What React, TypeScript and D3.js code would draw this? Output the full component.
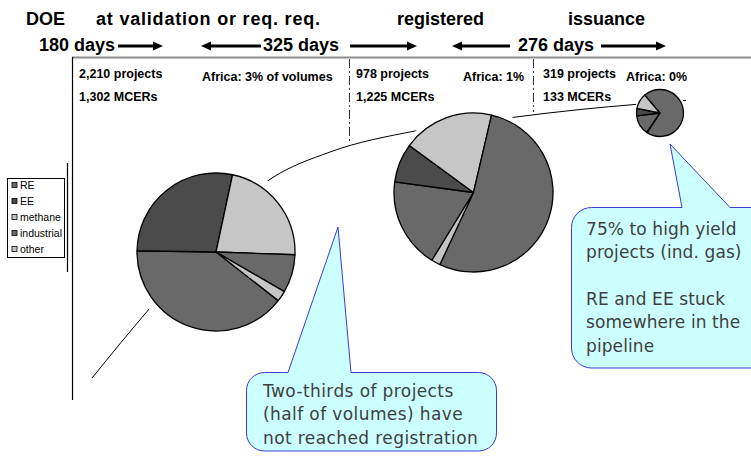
import React, { useMemo } from "react";
import * as d3 from "d3";

// Project categories and their share (%) of each pipeline stage, clockwise
const categories = ["RE", "EE", "methane", "industrial", "other"];
const validationShares = [39.7, 28.1, 22.2, 7.8, 2.2];
const registeredShares = [18.4, 7.9, 18.6, 53.3, 1.8];
const issuanceShares = [13.6, 5.1, 10.7, 70.4, 0.2];

// Stage summaries
const stageLabels = ["DOE", "at validation or req. req.", "registered", "issuance"];
const durationDays = [180, 325, 276];
const projectCounts = [2210, 978, 319];
const mcerVolumes = [1302, 1225, 133];
const africaShares = ["3% of volumes", "1%", "0%"];

// Callout notes
const noteValidation = ["Two-thirds of projects", "(half of volumes) have", "not reached registration"];
const noteIssuance = ["75% to high yield", "projects (ind. gas)", "", "RE and EE stuck", "somewhere in the", "pipeline"];

const W = 751;
const H = 457;

const categoryFill: Record<string, string> = {
  RE: "#696969",
  EE: "#4b4b4b",
  methane: "#c6c6c6",
  industrial: "#696969",
  other: "#c6c6c6",
};

// Pie placement for each stage (centre, radius, where the RE slice starts, halo gap)
const pieLayout = [
  { cx: 216, cy: 252, r: 79, startDeg: 128, gap: 9, shares: validationShares },
  { cx: 473.5, cy: 192.5, r: 79.5, startDeg: 211.5, gap: 5, shares: registeredShares },
  { cx: 660, cy: 113, r: 23.5, startDeg: 214, gap: 2, shares: issuanceShares },
];

// Pipeline trend curve running behind the pies
const pipelineKnots: [number, number][] = [
  [92, 378], [150, 308], [272, 178], [330, 152], [415, 131], [508, 118], [580, 109.5], [637, 104.3],
];

const stageX = [26, 96, 397, 568];
const stageWidth: (number | undefined)[] = [undefined, 224, undefined, undefined];
const durationX = [39, 263, 518];
const arrows = [
  { x1: 118, x2: 163, dir: 1 },
  { x1: 201, x2: 261, dir: -1 },
  { x1: 350, x2: 417, dir: 1 },
  { x1: 452, x2: 510, dir: -1 },
  { x1: 601, x2: 666, dir: 1 },
];
const columnX = [79, 356, 543];
const africaX = [202, 463, 626];
const separators = [
  { x: 349.5, y2: 142 },
  { x: 533.5, y2: 112 },
];

const fmt = d3.format(",");

function calloutPath(
  x0: number, y0: number, x1: number, y1: number, r: number,
  baseL: number, baseR: number, tipX: number, tipY: number
) {
  const p = d3.path();
  p.moveTo(x0 + r, y0);
  p.lineTo(baseL, y0);
  p.lineTo(tipX, tipY);
  p.lineTo(baseR, y0);
  p.arcTo(x1, y0, x1, y0 + r, r);
  p.arcTo(x1, y1, x1 - r, y1, r);
  p.arcTo(x0, y1, x0, y1 - r, r);
  p.arcTo(x0, y0, x0 + r, y0, r);
  p.closePath();
  return p.toString();
}

export default function App() {
  const pies = useMemo(
    () =>
      pieLayout.map((pl) => {
        const start = (pl.startDeg * Math.PI) / 180;
        const gen = d3
          .pie<number>()
          .sort(null)
          .value((d) => d)
          .startAngle(start)
          .endAngle(start + 2 * Math.PI);
        const arc = d3.arc<d3.PieArcDatum<number>>().innerRadius(0).outerRadius(pl.r);
        return { ...pl, slices: gen(pl.shares).map((s, i) => ({ d: arc(s) as string, cat: categories[i] })) };
      }),
    []
  );

  const curve = d3.line().curve(d3.curveMonotoneX)(pipelineKnots) as string;

  const headFont = "'Liberation Sans', Arial, sans-serif";
  const noteFont = "'DejaVu Sans', Verdana, sans-serif";

  return (
    <svg
      width={W}
      height={H}
      viewBox={`0 0 ${W} ${H}`}
      style={{ position: "absolute", left: 0, top: 0, background: "#fff" }}
    >
      {/* stage headings */}
      {stageLabels.map((s, i) => (
        <text
          key={s}
          x={stageX[i]}
          y={25}
          fontFamily={headFont}
          fontSize={18}
          fontWeight="bold"
          fill="#000"
          textLength={stageWidth[i]}
          lengthAdjust={stageWidth[i] ? "spacing" : undefined}
        >
          {s}
        </text>
      ))}
      {durationDays.map((d, i) => (
        <text key={d} x={durationX[i]} y={51} fontFamily={headFont} fontSize={18} fontWeight="bold" fill="#000">
          {`${d} days`}
        </text>
      ))}
      {arrows.map((a, i) => {
        const y = 46;
        const head = 10;
        const tip = a.dir > 0 ? a.x2 : a.x1;
        const tail = a.dir > 0 ? a.x1 : a.x2;
        const neck = tip - a.dir * head;
        return (
          <g key={i}>
            <line x1={tail} x2={neck} y1={y} y2={y} stroke="#000" strokeWidth={3} />
            <path d={`M${neck},${y - 4.5}L${tip},${y}L${neck},${y + 4.5}Z`} fill="#000" />
          </g>
        );
      })}

      {/* frame */}
      <line x1={72} x2={W} y1={57.5} y2={57.5} stroke="#8c8c8c" strokeWidth={2} />
      <line x1={72.5} x2={72.5} y1={57} y2={400} stroke="#000" strokeWidth={1.2} />
      <line x1={67.5} x2={67.5} y1={163} y2={272} stroke="#000" strokeWidth={1.2} />
      {separators.map((s) => (
        <line
          key={s.x}
          x1={s.x}
          x2={s.x}
          y1={59}
          y2={s.y2}
          stroke="#333"
          strokeWidth={1}
          strokeDasharray="9,3,2,3"
        />
      ))}

      {/* stage figures */}
      {projectCounts.map((p, i) => (
        <g key={p} fontFamily={headFont} fontSize={12.5} fontWeight="bold" fill="#000">
          <text x={columnX[i]} y={78}>{`${fmt(p)} projects`}</text>
          <text x={columnX[i]} y={101}>{`${fmt(mcerVolumes[i])} MCERs`}</text>
          <text x={africaX[i]} y={81}>{`Africa: ${africaShares[i]}`}</text>
        </g>
      ))}

      {/* pipeline curve */}
      <path d={curve} fill="none" stroke="#000" strokeWidth={1} />

      {/* pies */}
      {pies.map((p, k) => (
        <g key={k} transform={`translate(${p.cx},${p.cy})`}>
          <circle r={p.r + p.gap} fill="#fff" />
          {p.slices.map((s, i) => (
            <path key={i} d={s.d} fill={categoryFill[s.cat]} stroke="#000" strokeWidth={1.3} strokeLinejoin="round" />
          ))}
        </g>
      ))}
      <line x1={683} x2={686} y1={100.5} y2={100.5} stroke="#000" strokeWidth={1} />

      {/* legend */}
      <rect x={7.5} y={178.5} width={57} height={79} fill="#fff" stroke="#000" strokeWidth={1} />
      {categories.map((c, i) => (
        <g key={c} transform={`translate(12,${185 + i * 16})`}>
          <rect x={0} y={-2.5} width={5} height={5} fill={categoryFill[c]} stroke="#000" strokeWidth={0.8} />
          <text x={8} y={3.7} fontFamily={headFont} fontSize={10.5} fill="#000">
            {c}
          </text>
        </g>
      ))}

      {/* callouts */}
      <path
        d={calloutPath(246.5, 372.5, 496.5, 451, 18, 288, 351, 338, 227)}
        fill="#ccffff"
        stroke="#3a3ad6"
        strokeWidth={1}
      />
      {noteValidation.map((t, i) => (
        <text
          key={i}
          x={263}
          y={397 + i * 23.3}
          fontFamily={noteFont}
          fontSize={17}
          letterSpacing={0.4}
          fill="#404040"
        >
          {t}
        </text>
      ))}
      <path
        d={calloutPath(571.5, 207.5, 780, 368, 20, 682, 730, 670, 144)}
        fill="#ccffff"
        stroke="#3a3ad6"
        strokeWidth={1}
      />
      {noteIssuance.map((t, i) => (
        <text
          key={i}
          x={586}
          y={235 + i * 23.3}
          fontFamily={noteFont}
          fontSize={17}
          letterSpacing={0.1}
          fill="#404040"
        >
          {t}
        </text>
      ))}
    </svg>
  );
}
